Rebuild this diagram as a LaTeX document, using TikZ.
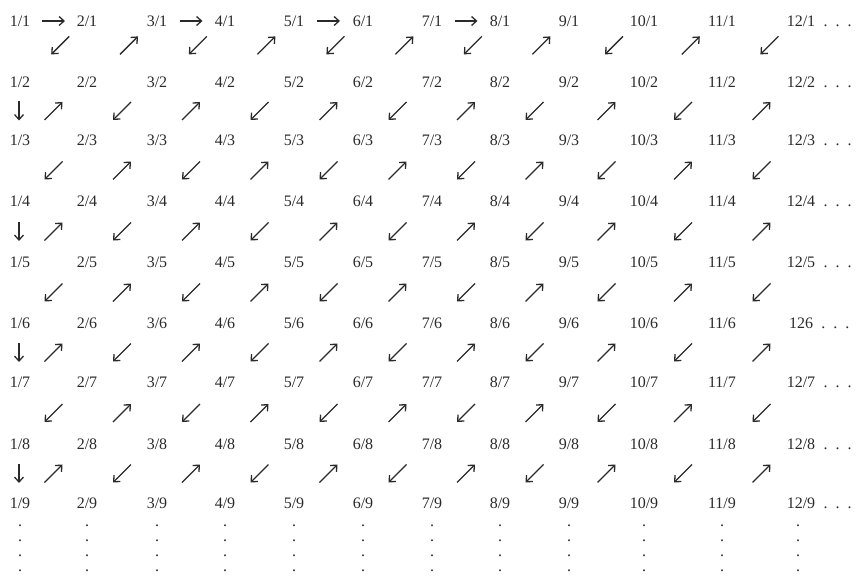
\documentclass[tikz,border=0pt]{standalone}
\usepackage{fontspec}
\setmainfont{Liberation Serif}
\usetikzlibrary{calc,arrows.meta}
\definecolor{ink}{HTML}{2A2A2A}
\begin{document}
\begin{tikzpicture}[x=1pt,y=-1pt,
  lab/.style={inner sep=1pt, text=ink, font=\fontsize{16}{19}\selectfont},
  dotrow/.style={inner sep=1pt, text=ink, font=\fontsize{16}{19}\selectfont, anchor=base west},
  dotcol/.style={inner sep=0pt, text=ink, align=center, font=\fontsize{16}{15}\selectfont},
  arr/.style={draw=ink, line width=1.3pt, -{Straight Barb[length=5pt,width=9pt]}},
  hop/.style n args={3}{to path={($(\tikztostart)!#1!(\tikztotarget)$) +(#2) -- +(#3)}}
]
\useasboundingbox (0,0) rectangle (861,575);
% labels
\foreach \r/\y in {1/21,2/82,3/140,4/201,5/262,6/323,7/382,8/444,9/503}{
  \foreach \c/\x in {1/20,2/87,3/157,4/225,5/294,6/363,7/432,8/500,9/569,10/644,11/722,12/801}{
    \ifnum\c=12 \ifnum\r=6
      \node[lab] (n-\c-\r) at (\x,\y) {126};
    \else
      \node[lab] (n-\c-\r) at (\x,\y) {\c/\r};
    \fi\else
      \node[lab] (n-\c-\r) at (\x,\y) {\c/\r};
    \fi
  }
  \node[dotrow] (d-\r) at ([xshift=6pt]n-12-\r.base east) {.\hspace{8pt}.\hspace{8pt}.};
}
% vertical dots
\foreach \c/\x in {1/20,2/87,3/157,4/225,5/294,6/363,7/432,8/500,9/569,10/644,11/722,12/798}{
  \node[dotcol] (v-\c) at (\x,548) {.\\.\\.\\.};
}
% horizontal arrows in row 1
\foreach \c in {1,3,5,7}{
  \pgfmathtruncatemacro\cn{\c+1}
  \draw[arr] (n-\c-1) to[hop={0.5}{-11.5,0}{11.5,0}] (n-\cn-1);
}
% vertical arrows in column 1
\foreach \r in {2,4,6,8}{
  \pgfmathtruncatemacro\rn{\r+1}
  \draw[arr] (n-1-\r) to[hop={0.5}{-1,-9.5}{-1,9.5}] (n-1-\rn);
}
% diagonal arrows
\foreach \r in {1,...,8}{
  \foreach \c in {1,...,11}{
    \pgfmathtruncatemacro\cn{\c+1}
    \pgfmathtruncatemacro\rn{\r+1}
    \pgfmathtruncatemacro\odd{mod(\c+\r+1,2)}
    \ifnum\odd=1
      \ifnum\r=1 \def\pp{0.4}\else\def\pp{0.5}\fi
      \draw[arr] (n-\cn-\r) to[hop={\pp}{9,-9}{-9,9}] (n-\c-\rn);
    \else
      \ifnum\r=1 \def\pp{0.6}\else\def\pp{0.5}\fi
      \draw[arr] (n-\c-\rn) to[hop={\pp}{-9,9}{9,-9}] (n-\cn-\r);
    \fi
  }
}
\end{tikzpicture}
\end{document}
